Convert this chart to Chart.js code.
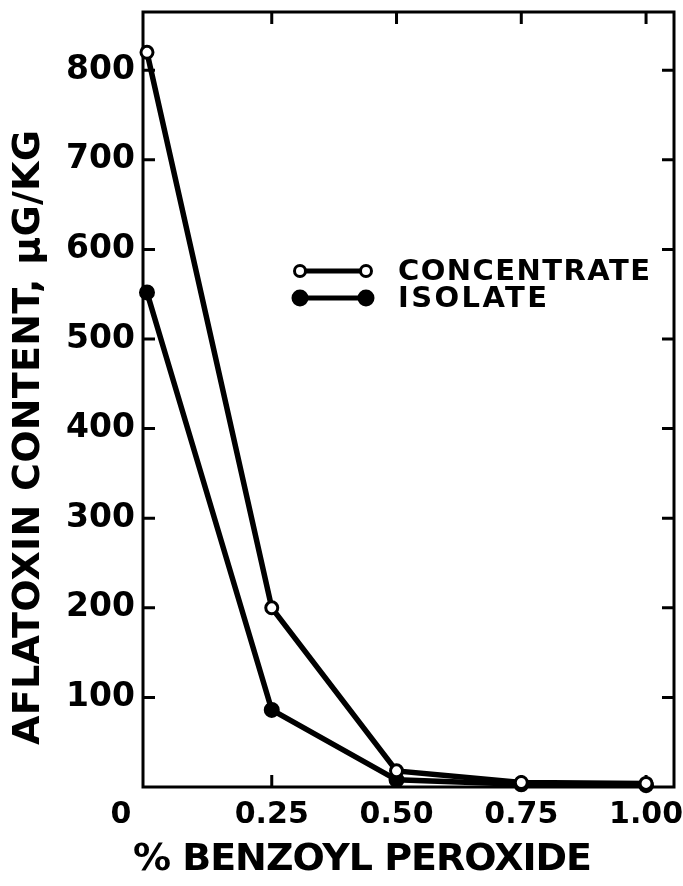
<!DOCTYPE html>
<html>
<head>
<meta charset="utf-8">
<script src="https://cdn.jsdelivr.net/npm/chart.js@4.4.0/dist/chart.umd.min.js"></script>
<style>
  html, body { margin: 0; padding: 0; background: #fff; }
  #wrap { width: 683px; height: 886px; }
</style>
</head>
<body>
<div id="wrap"><canvas id="aflaChart"></canvas></div>
<script>
// data
const peroxideLevels = [0, 0.25, 0.5, 0.75, 1.0];
const concentrateValues = [820, 200, 18, 5, 4];
const isolateValues = [552, 86, 8, 3, 2];
const xTickValues = [0, 0.25, 0.5, 0.75, 1.0];
const xTickLabels = ['0', '0.25', '0.50', '0.75', '1.00'];
const yTickValues = [100, 200, 300, 400, 500, 600, 700, 800];

const FONT = '"DejaVu Sans", sans-serif';
const INK = '#000';

const toPoints = (vals) => vals.map((v, i) => ({ x: peroxideLevels[i], y: v }));

// draw text with letter spacing so it fills a given width
const spacedText = (ctx, text, x, y, width, size) => {
    ctx.font = `bold ${size}px ${FONT}`;
    ctx.letterSpacing = '0px';
    const w = ctx.measureText(text).width;
    const gap = (width - w) / (text.length - 1);
    ctx.letterSpacing = gap + 'px';
    ctx.textAlign = 'left';
    ctx.textBaseline = 'middle';
    ctx.fillText(text, x, y);
    ctx.letterSpacing = '0px';
};

const framePlugin = {
    id: 'frame',
    beforeDatasetsDraw(chart) {
        const { ctx, chartArea: a, scales } = chart;
        ctx.save();
        ctx.strokeStyle = INK;
        ctx.lineWidth = 3;
        ctx.strokeRect(a.left, a.top, a.right - a.left, a.bottom - a.top);
        ctx.beginPath();
        yTickValues.forEach((v) => {
            const y = scales.y.getPixelForValue(v);
            ctx.moveTo(a.left, y); ctx.lineTo(a.left + 12, y);
            ctx.moveTo(a.right, y); ctx.lineTo(a.right - 12, y);
        });
        xTickValues.slice(1).forEach((v) => {
            const x = scales.x.getPixelForValue(v);
            ctx.moveTo(x, a.bottom); ctx.lineTo(x, a.bottom - 12);
            ctx.moveTo(x, a.top); ctx.lineTo(x, a.top + 12);
        });
        ctx.stroke();
        ctx.restore();
    },
    afterDraw(chart) {
        const { ctx } = chart;
        ctx.save();
        ctx.fillStyle = INK;
        // axis titles
        spacedText(ctx, '% BENZOYL PEROXIDE', 133, 860, 459, 38);
        ctx.translate(29, 745);
        ctx.rotate(-Math.PI / 2);
        spacedText(ctx, 'AFLATOXIN CONTENT, \u03BCG/KG', 0, 0, 615, 38);
        ctx.restore();

        // legend
        ctx.save();
        const rows = [
            { label: 'CONCENTRATE', y: 271, width: 252, open: true },
            { label: 'ISOLATE', y: 298, width: 149, open: false },
        ];
        rows.forEach((r) => {
            ctx.strokeStyle = INK;
            ctx.lineWidth = 5;
            ctx.beginPath();
            ctx.moveTo(300, r.y); ctx.lineTo(366, r.y);
            ctx.stroke();
            [300, 366].forEach((cx) => {
                ctx.beginPath();
                ctx.arc(cx, r.y, r.open ? 5.5 : 7, 0, Math.PI * 2);
                ctx.fillStyle = r.open ? '#fff' : INK;
                ctx.fill();
                ctx.lineWidth = 3;
                ctx.stroke();
            });
            ctx.fillStyle = INK;
            spacedText(ctx, r.label, 398, r.y + 1, r.width, 29);
        });
        ctx.restore();
    }
};

window.onload = function () {
    const ctx = document.getElementById('aflaChart');

    new Chart(ctx, {
        type: 'line',
        data: {
            datasets: [
                {
                    label: 'CONCENTRATE',
                    data: toPoints(concentrateValues),
                    borderColor: INK,
                    borderWidth: 5.5,
                    pointRadius: 6,
                    pointBorderWidth: 3,
                    pointBackgroundColor: '#fff',
                    pointBorderColor: INK,
                    tension: 0,
                    clip: false,
                },
                {
                    label: 'ISOLATE',
                    data: toPoints(isolateValues),
                    borderColor: INK,
                    borderWidth: 5.5,
                    pointRadius: 7,
                    pointBorderWidth: 2,
                    pointBackgroundColor: INK,
                    pointBorderColor: INK,
                    tension: 0,
                    clip: false,
                },
            ],
        },
        options: {
            responsive: true,
            maintainAspectRatio: false,
            animation: false,
            layout: { padding: { top: 12, right: 6, left: 0, bottom: 0 } },
            plugins: {
                legend: { display: false },
                tooltip: { enabled: false },
            },
            scales: {
                x: {
                    type: 'linear',
                    min: -0.008,
                    max: 1.056,
                    afterBuildTicks: (scale) => {
                        scale.ticks = xTickValues.map((v) => ({ value: v }));
                    },
                    afterFit: (scale) => {
                        scale.height = 99;
                        scale.paddingLeft = 0;
                        scale.paddingRight = 0;
                    },
                    grid: { display: false, drawTicks: false },
                    border: { display: false },
                    ticks: {
                        color: INK,
                        padding: 10,
                        maxRotation: 0,
                        font: { family: FONT, size: 30, weight: 'bold' },
                        callback: (v) => {
                            const i = xTickValues.indexOf(v);
                            if (i === 0) return '0     ';
                            return i >= 0 ? xTickLabels[i] : '';
                        },
                    },
                },
                y: {
                    min: 0,
                    max: 865,
                    afterBuildTicks: (scale) => {
                        scale.ticks = yTickValues.map((v) => ({ value: v }));
                    },
                    afterFit: (scale) => {
                        scale.width = 143;
                        scale.paddingTop = 0;
                        scale.paddingBottom = 0;
                    },
                    grid: { display: false, drawTicks: false },
                    border: { display: false },
                    ticks: {
                        color: INK,
                        padding: 8,
                        font: { family: FONT, size: 33, weight: 'bold' },
                    },
                },
            },
        },
        plugins: [framePlugin],
    });
};
</script>
</body>
</html>
